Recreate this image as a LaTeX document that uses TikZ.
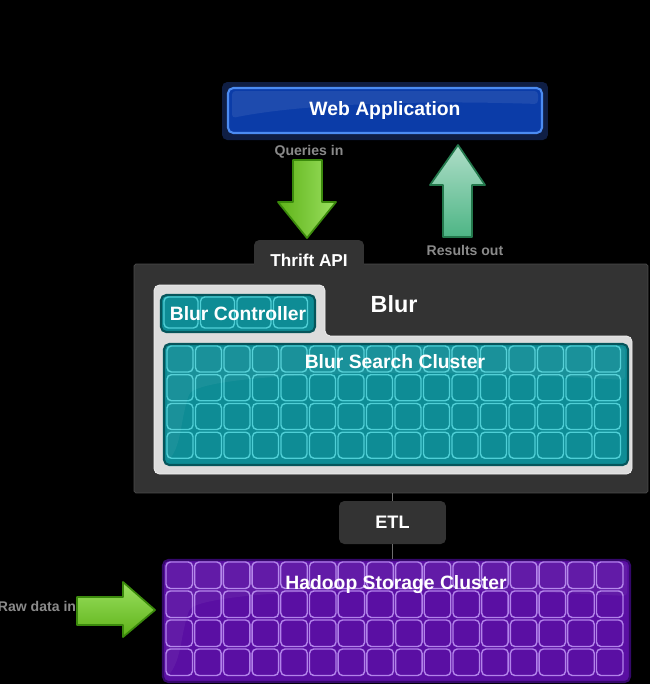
\documentclass[tikz,border=0pt]{standalone}
\usepackage{fontspec}
\setmainfont{Liberation Sans}
\usetikzlibrary{shapes,arrows,positioning,calc}

\definecolor{panel}{HTML}{333333}
\definecolor{panelline}{HTML}{4A4A4A}
\definecolor{lightpanel}{HTML}{DCDCDC}
\definecolor{teal1}{HTML}{0E8C95}
\definecolor{tealline}{HTML}{4FCFD6}
\definecolor{tealdark}{HTML}{06555B}
\definecolor{purp}{HTML}{5A0FA3}
\definecolor{purpline}{HTML}{B283EA}
\definecolor{purpdark}{HTML}{34086A}
\definecolor{webblue}{HTML}{0B3CA8}
\definecolor{webline}{HTML}{4C8CF2}
\definecolor{webdark}{HTML}{0F1E44}
\definecolor{arrgreen}{HTML}{6FD21C}
\definecolor{arrgreendark}{HTML}{3B8A0C}
\definecolor{arrsea}{HTML}{4DB585}
\definecolor{arrseadark}{HTML}{23784C}
\definecolor{lblgray}{HTML}{8A8A8A}

\begin{document}
\begin{tikzpicture}[x=0.02cm,y=-0.02cm,
    box/.style={rectangle,rounded corners=3pt,inner sep=0pt,text=white,font=\fontsize{11}{13}\selectfont\bfseries},
    lbl/.style={text=lblgray,font=\fontsize{8}{9}\selectfont\bfseries},
    bigarrow/.style={line width=1pt,line join=round},
    cell/.style={rounded corners=2.5pt,line width=0.8pt}]
    % Background
    \fill[black] (0,0) rectangle (650,684);
    \useasboundingbox (0,0) rectangle (650,684);

    % Web application
    \node[box,fill=webdark,minimum width=6.52cm,minimum height=1.16cm] (webframe) at (385,111) {};
    \node[box,fill=webblue,draw=webline,line width=1.2pt,minimum width=6.28cm,minimum height=0.9cm] (webapp) at (385,110.5) {Web Application};
    \fill[white,opacity=0.08,rounded corners=2pt] (232,91) -- (538,91) -- (538,104) .. controls (420,100) and (300,104) .. (232,118) -- cycle;

    % Queries in
    \node[lbl] (qlbl) at (309,152) {Queries in};
    \draw[bigarrow,draw=arrgreendark,left color=arrgreen!85!black,right color=arrgreen!70!white]
        (293,160) -- (322,160) -- (322,202) -- (336,202) -- (307,238) -- (278,202) -- (293,202) -- cycle;

    % Results out
    \draw[bigarrow,draw=arrseadark,top color=arrsea!45!white,bottom color=arrsea]
        (443,237) -- (472,237) -- (472,185) -- (485,185) -- (458,145) -- (430,185) -- (443,185) -- cycle;
    \node[lbl] (rlbl) at (465,250) {Results out};

    % Blur
    \node[rectangle,rounded corners=1pt,fill=panel,draw=panelline,minimum width=10.28cm,minimum height=4.58cm] (blur) at (391,378.5) {};
    \node[box,fill=panel,minimum width=2.2cm,minimum height=0.8cm,font=\fontsize{9.8}{12}\selectfont\bfseries] (thrift) at (309,260) {Thrift API};
    \node[text=white,font=\fontsize{13.3}{15}\selectfont\bfseries] (blurlbl) at (394,304) {Blur};
    \fill[lightpanel,draw=white!90!gray,rounded corners=3pt] (154,285) -- (325,285) -- (325,336) -- (632,336) -- (632,474) -- (154,474) -- cycle;

    % Blur controller
    \node[box,fill=teal1,draw=tealdark,line width=1.2pt,minimum width=3.08cm,minimum height=0.74cm] (ctrl) at (238,313.5) {};
    \foreach \i in {0,...,3}
        \draw[cell,tealline] ($(ctrl.north west)+(\i*36.5+4,3)$) rectangle +(34,31);
    \node[box] (ctrllbl) at (238,313.5) {Blur Controller};

    % Blur search cluster
    \node[box,fill=teal1,draw=tealdark,line width=1.2pt,minimum width=9.28cm,minimum height=2.42cm] (search) at (396,404.5) {};
    \foreach \i in {0,...,15}
        \foreach \j in {0,...,3}
            \draw[cell,tealline] ($(search.north west)+(\i*28.5+4,\j*28.75+3)$) rectangle +(26,26);
    \fill[white,opacity=0.05,rounded corners=2pt] (167,347) -- (625,347) -- (625,380) .. controls (420,368) and (230,372) .. (190,392) .. controls (180,420) and (182,445) .. (167,462) -- cycle;
    \node[box] (searchlbl) at (395,362) {Blur Search Cluster};

    % ETL
    \node[box,fill=panel,minimum width=2.14cm,minimum height=0.86cm,font=\fontsize{10.3}{12}\selectfont\bfseries] (etl) at (392.5,522.5) {ETL};

    % Hadoop storage cluster
    \node[box,fill=purp,draw=purpdark,line width=1.2pt,minimum width=9.34cm,minimum height=2.44cm] (hadoop) at (396.5,621) {};
    \foreach \i in {0,...,15}
        \foreach \j in {0,...,3}
            \draw[cell,purpline] ($(hadoop.north west)+(\i*28.7+4,\j*29+3)$) rectangle +(26.5,26.5);
    \fill[white,opacity=0.05,rounded corners=2pt] (166,563) -- (627,563) -- (627,596) .. controls (420,585) and (230,589) .. (190,608) .. controls (180,636) and (182,660) .. (166,678) -- cycle;
    \node[box] (hadooplbl) at (396,585) {Hadoop Storage Cluster};

    \draw[panelline!80!white,line width=1pt] (etl.north) -- (etl.north |- blur.south);
    \draw[panelline!80!white,line width=1pt] (etl.south) -- (etl.south |- hadoop.north);

    % Raw data in
    \node[lbl] (rawlbl) at (37,606) {Raw data in};
    \draw[bigarrow,draw=arrgreendark,top color=arrgreen!70!white,bottom color=arrgreen!85!black]
        (77,597) -- (123,597) -- (123,582) -- (155,610) -- (123,637) -- (123,625) -- (77,625) -- cycle;
\end{tikzpicture}
\end{document}
